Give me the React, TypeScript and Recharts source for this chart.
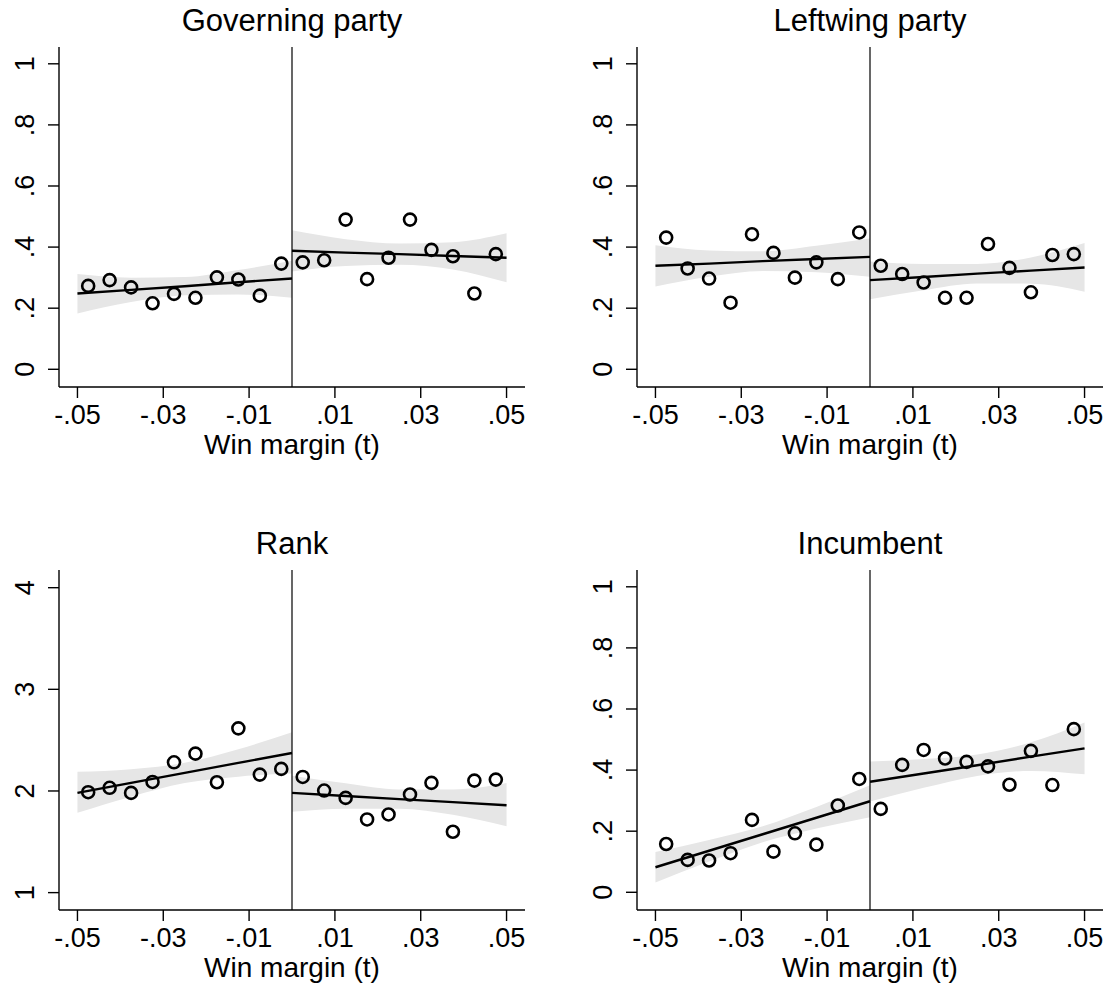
import React from 'react';
import { ComposedChart, Area, Line, Scatter, XAxis, YAxis, ReferenceLine } from 'recharts';

const FONT = '"Liberation Sans", Arial, Helvetica, sans-serif';

// bin midpoints of the win margin
const binsLeft = [-0.0475, -0.0425, -0.0375, -0.0325, -0.0275, -0.0225, -0.0175, -0.0125, -0.0075, -0.0025];
const binsRight = [0.0025, 0.0075, 0.0125, 0.0175, 0.0225, 0.0275, 0.0325, 0.0375, 0.0425, 0.0475];
const fitXLeft = [-0.05, -0.0375, -0.025, -0.0125, 0];
const fitXRight = [0, 0.0125, 0.025, 0.0375, 0.05];

const xTicks = [-0.05, -0.03, -0.01, 0.01, 0.03, 0.05];
const shareTicks = [0, 0.2, 0.4, 0.6, 0.8, 1];
const rankTicks = [1, 2, 3, 4];

// Governing party
const govLeft = [0.273, 0.292, 0.268, 0.216, 0.247, 0.234, 0.301, 0.294, 0.241, 0.346];
const govRight = [0.35, 0.357, 0.49, 0.295, 0.365, 0.49, 0.391, 0.37, 0.248, 0.377];
const govFitLeft = [0.248, 0.26, 0.272, 0.285, 0.297];
const govLoLeft = [0.183, 0.22, 0.242, 0.245, 0.234];
const govHiLeft = [0.312, 0.3, 0.302, 0.325, 0.355];
const govFitRight = [0.388, 0.382, 0.377, 0.371, 0.365];
const govLoRight = [0.32, 0.338, 0.342, 0.327, 0.285];
const govHiRight = [0.455, 0.426, 0.412, 0.416, 0.445];

// Leftwing party
const leftLeft = [0.431, 0.33, 0.297, 0.218, 0.442, 0.381, 0.3, 0.35, 0.295, 0.448];
const leftRight = [0.339, 0.312, 0.284, 0.234, 0.234, 0.41, 0.332, 0.252, 0.374, 0.377];
const leftFitLeft = [0.339, 0.346, 0.354, 0.361, 0.368];
const leftLoLeft = [0.271, 0.303, 0.322, 0.318, 0.303];
const leftHiLeft = [0.406, 0.389, 0.386, 0.404, 0.428];
const leftFitRight = [0.292, 0.302, 0.313, 0.323, 0.333];
const leftLoRight = [0.229, 0.259, 0.281, 0.28, 0.254];
const leftHiRight = [0.353, 0.345, 0.345, 0.366, 0.413];

// Rank
const rankLeft = [1.988, 2.031, 1.981, 2.089, 2.282, 2.367, 2.086, 2.616, 2.161, 2.217];
const rankRight = [2.138, 2.004, 1.932, 1.72, 1.769, 1.965, 2.08, 1.599, 2.102, 2.112];
const rankFitLeft = [1.981, 2.079, 2.178, 2.276, 2.374];
const rankLoLeft = [1.785, 1.944, 2.078, 2.141, 2.171];
const rankHiLeft = [2.188, 2.214, 2.278, 2.411, 2.577];
const rankFitRight = [1.981, 1.951, 1.92, 1.89, 1.86];
const rankLoRight = [1.795, 1.826, 1.825, 1.765, 1.652];
const rankHiRight = [2.15, 2.076, 2.015, 2.015, 2.078];

// Incumbent
const incLeft = [0.158, 0.106, 0.104, 0.128, 0.237, 0.133, 0.193, 0.156, 0.284, 0.371];
const incRight = [0.273, 0.417, 0.466, 0.438, 0.427, 0.412, 0.352, 0.463, 0.351, 0.534];
const incFitLeft = [0.082, 0.136, 0.19, 0.244, 0.298];
const incLoLeft = [0.032, 0.101, 0.164, 0.209, 0.246];
const incHiLeft = [0.132, 0.171, 0.216, 0.279, 0.35];
const incFitRight = [0.362, 0.389, 0.416, 0.444, 0.471];
const incLoRight = [0.297, 0.342, 0.381, 0.397, 0.386];
const incHiRight = [0.428, 0.436, 0.451, 0.491, 0.556];

const fmt = (v: number) => {
  if (v === 0) return '0';
  const s = String(v);
  return s.replace(/^(-?)0\./, '$1.');
};

function buildRows(fitL: number[], loL: number[], hiL: number[], fitR: number[], loR: number[], hiR: number[]) {
  const rows: any[] = fitXLeft.map((x, i) => ({ x, fitL: fitL[i], bandL: [loL[i], hiL[i]] }));
  fitXRight.forEach((x, i) => {
    if (x === 0) {
      Object.assign(rows[rows.length - 1], { fitR: fitR[i], bandR: [loR[i], hiR[i]] });
    } else {
      rows.push({ x, fitR: fitR[i], bandR: [loR[i], hiR[i]] });
    }
  });
  return rows;
}

function buildPoints(left: number[], right: number[]) {
  return [
    ...binsLeft.map((x, i) => ({ x, y: left[i] })),
    ...binsRight.map((x, i) => ({ x, y: right[i] })),
  ];
}

const YTick = (props: any) => {
  const { x, y, payload } = props;
  return (
    <text x={x} y={y} transform={`rotate(-90 ${x} ${y})`} textAnchor="middle"
      fontSize={27} fontFamily={FONT} fill="#000">
      {fmt(payload.value)}
    </text>
  );
};

const Circle = (props: any) => (
  <circle cx={props.cx} cy={props.cy} r={6} fill="none" stroke="#000" strokeWidth={2.6} />
);

interface PanelProps {
  title: string;
  left: number;
  top: number;
  rows: any[];
  points: { x: number; y: number }[];
  yDomain: [number, number];
  yTicks: number[];
}

function Panel({ title, left, top, rows, points, yDomain, yTicks }: PanelProps) {
  return (
    <div style={{ position: 'absolute', left, top, width: 556, height: 470 }}>
      <div style={{ position: 'absolute', left: 59, top: 5, width: 466, textAlign: 'center',
        fontFamily: FONT, fontSize: 31, lineHeight: 1, color: '#000' }}>{title}</div>
      <ComposedChart width={556} height={470} data={rows}
        margin={{ top: 47, right: 31, left: 0, bottom: 0 }}>
        <XAxis dataKey="x" type="number" domain={[-0.0543, 0.0543]} allowDataOverflow
          ticks={xTicks} interval={0} tickFormatter={fmt} height={83}
          tickSize={11} tickMargin={7} stroke="#000" strokeWidth={1.4}
          tick={{ fontSize: 27, fontFamily: FONT, fill: '#000' }} />
        <YAxis type="number" domain={yDomain} allowDataOverflow ticks={yTicks} interval={0}
          width={59} tickSize={11} tickMargin={14} stroke="#000" strokeWidth={1.4}
          tick={<YTick />} />
        <Area dataKey="bandL" type="monotone" stroke="none" fill="#e6e6e6" fillOpacity={1}
          isAnimationActive={false} />
        <Area dataKey="bandR" type="monotone" stroke="none" fill="#e6e6e6" fillOpacity={1}
          isAnimationActive={false} />
        <ReferenceLine x={0} stroke="#000" strokeWidth={1.2} />
        <Line dataKey="fitL" type="linear" stroke="#000" strokeWidth={2.4} dot={false}
          isAnimationActive={false} />
        <Line dataKey="fitR" type="linear" stroke="#000" strokeWidth={2.4} dot={false}
          isAnimationActive={false} />
        <Scatter data={points} dataKey="y" shape={<Circle />} isAnimationActive={false} />
      </ComposedChart>
      <div style={{ position: 'absolute', left: 59, top: 431, width: 466, textAlign: 'center',
        fontFamily: FONT, fontSize: 28, lineHeight: 1, color: '#000' }}>Win margin (t)</div>
    </div>
  );
}

export default function App() {
  const shareDomain: [number, number] = [-0.058, 1.055];
  return (
    <div style={{ position: 'absolute', left: 0, top: 0, width: 1113, height: 991, background: '#fff' }}>
      <Panel title="Governing party" left={0} top={0}
        rows={buildRows(govFitLeft, govLoLeft, govHiLeft, govFitRight, govLoRight, govHiRight)}
        points={buildPoints(govLeft, govRight)} yDomain={shareDomain} yTicks={shareTicks} />
      <Panel title="Leftwing party" left={578} top={0}
        rows={buildRows(leftFitLeft, leftLoLeft, leftHiLeft, leftFitRight, leftLoRight, leftHiRight)}
        points={buildPoints(leftLeft, leftRight)} yDomain={shareDomain} yTicks={shareTicks} />
      <Panel title="Rank" left={0} top={523}
        rows={buildRows(rankFitLeft, rankLoLeft, rankHiLeft, rankFitRight, rankLoRight, rankHiRight)}
        points={buildPoints(rankLeft, rankRight)} yDomain={[0.829, 4.174]} yTicks={rankTicks} />
      <Panel title="Incumbent" left={578} top={523}
        rows={buildRows(incFitLeft, incLoLeft, incHiLeft, incFitRight, incLoRight, incHiRight)}
        points={buildPoints(incLeft, incRight)} yDomain={shareDomain} yTicks={shareTicks} />
    </div>
  );
}
